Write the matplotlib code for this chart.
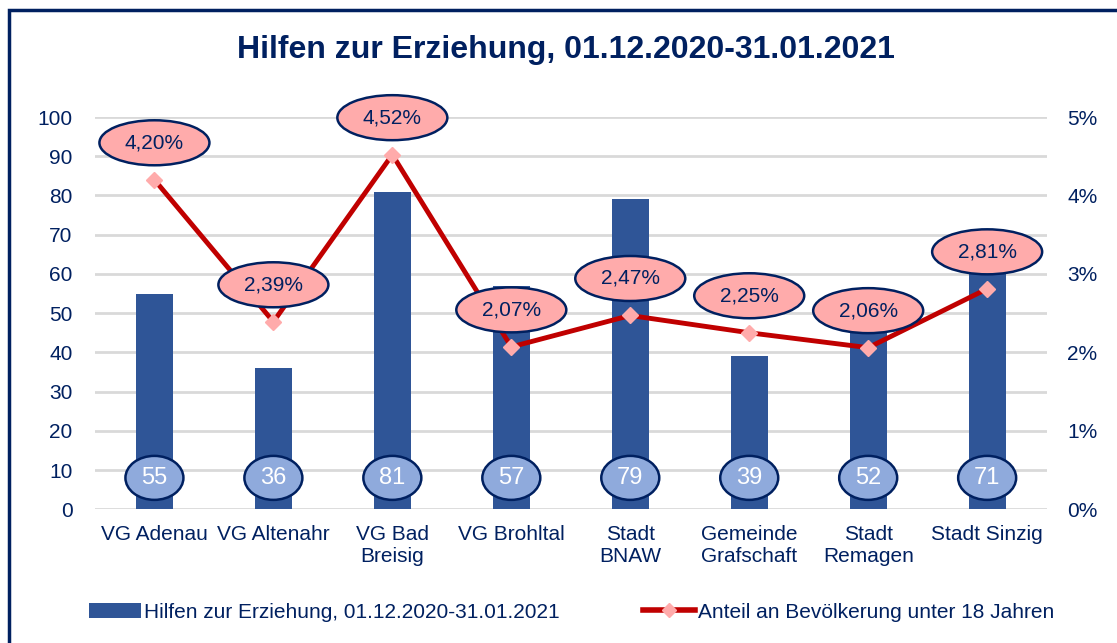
import matplotlib
matplotlib.use("Agg")
import matplotlib.pyplot as plt
from matplotlib.patches import Ellipse, Patch, Rectangle
from matplotlib.lines import Line2D
from matplotlib.transforms import ScaledTranslation

####### donnees ###########
kategorien = ["VG Adenau", "VG Altenahr", "VG Bad\nBreisig", "VG Brohltal",
              "Stadt\nBNAW", "Gemeinde\nGrafschaft", "Stadt\nRemagen", "Stadt Sinzig"]
hilfen = [55, 36, 81, 57, 79, 39, 52, 71]
anteil = [4.20, 2.39, 4.52, 2.07, 2.47, 2.25, 2.06, 2.81]   # in %
y_ticks_links = [0, 10, 20, 30, 40, 50, 60, 70, 80, 90, 100]
y_ticks_rechts = [0, 1, 2, 3, 4, 5]

navy = "#002060"
balken = "#2F5597"
hellblau = "#8FAADC"
rosa = "#FFABAB"
rot = "#C00000"

plt.rcParams["font.family"] = ["Liberation Sans", "DejaVu Sans"]

fig = plt.figure(figsize=(11.17, 6.43), dpi=100)
ax = fig.add_axes([0.085, 0.208, 0.852, 0.610])
ax2 = ax.twinx()

x = list(range(len(kategorien)))

# balken
ax.bar(x, hilfen, width=0.31, color=balken, zorder=2)
ax.set_ylim(0, 100)
ax.set_xlim(-0.5, len(kategorien) - 0.5)
ax.set_yticks(y_ticks_links)
ax.set_yticklabels([str(v) for v in y_ticks_links], fontsize=15, color=navy)
ax.set_xticks(x)
ax.set_xticklabels(kategorien, fontsize=15, color=navy, linespacing=1.2)
ax.tick_params(axis="y", length=0, pad=16)
ax.tick_params(axis="x", length=0, pad=11)
ax.yaxis.grid(True, color="#D9D9D9", lw=2)
ax.set_axisbelow(True)
for s in ax.spines.values():
    s.set_visible(False)

# linie
ax2.plot(x, anteil, color=rot, lw=3.5, marker="D", markersize=8,
         markerfacecolor=rosa, markeredgecolor=rosa, zorder=3)
ax2.set_ylim(0, 5)
ax2.set_yticks(y_ticks_rechts)
ax2.set_yticklabels([f"{v}%" for v in y_ticks_rechts], fontsize=15, color=navy)
ax2.tick_params(axis="y", length=0, pad=15)
for s in ax2.spines.values():
    s.set_visible(False)

# beschriftungen der balken (blaue ellipsen)
for xi, v in zip(x, hilfen):
    e = Ellipse((0, 0), 58, 44, facecolor=hellblau, edgecolor=navy, lw=1.8,
                transform=ScaledTranslation(xi, 8, ax.transData), zorder=4,
                clip_on=False)
    ax.add_patch(e)
    ax.text(xi, 8, str(v), ha="center", va="center", fontsize=17,
            color="white", zorder=5)

# beschriftungen der linie (rosa ellipsen)
for xi, v in zip(x, anteil):
    e = Ellipse((0, 37), 110, 45, facecolor=rosa, edgecolor=navy, lw=1.8,
                transform=ScaledTranslation(xi, v, ax2.transData), zorder=6,
                clip_on=False)
    ax2.add_patch(e)
    ax2.annotate(f"{v:.2f}%".replace(".", ","), (xi, v), xytext=(0, 37 * 0.72),
                 textcoords="offset points", ha="center", va="center",
                 fontsize=15, color=navy, zorder=7, annotation_clip=False)

fig.text(0.507, 0.922, "Hilfen zur Erziehung, 01.12.2020-31.01.2021", ha="center",
         va="center", fontsize=23, fontweight="bold", color=navy)

handles = [Patch(facecolor=balken),
           Line2D([], [], color=rot, lw=4, marker="D", markersize=7,
                  markerfacecolor=rosa, markeredgecolor=rosa)]
fig.legend(handles, ["Hilfen zur Erziehung, 01.12.2020-31.01.2021",
                     "Anteil an Bevölkerung unter 18 Jahren"],
           loc="center", bbox_to_anchor=(0.512, 0.048), ncol=2, frameon=False,
           fontsize=15, labelcolor=navy, handlelength=2.5, handletextpad=0.15,
           columnspacing=4.0)

# rahmen
fig.patches.append(Rectangle((9 / 1117, -0.1), 1.2, 1 - 10 / 643 + 0.1,
                             transform=fig.transFigure, fill=False,
                             edgecolor=navy, lw=2.5))

fig.savefig("out.png", dpi=100)
